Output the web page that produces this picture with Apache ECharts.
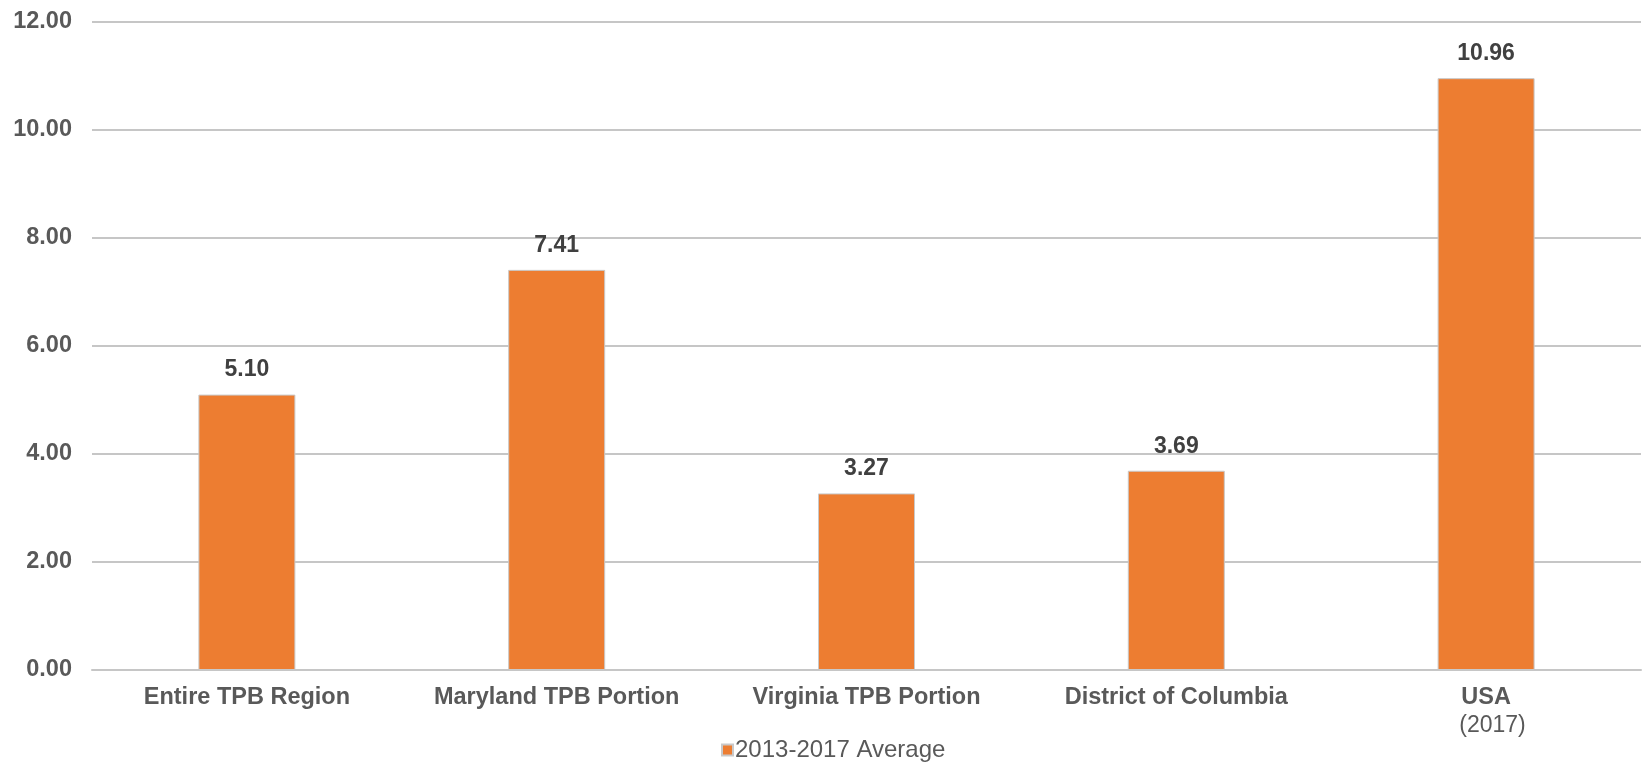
<!DOCTYPE html>
<html><head><meta charset="utf-8">
<script src="https://cdn.jsdelivr.net/npm/echarts@6/dist/echarts.min.js"></script>
<style>html,body{margin:0;padding:0;background:#fff}#c{width:1643px;height:764px}</style>
</head><body><div id="c"></div>
<script>
const categories = ['Entire TPB Region', 'Maryland TPB Portion', 'Virginia TPB Portion', 'District of Columbia', 'USA\n(2017)'];
const seriesName = '2013-2017 Average';
const values = [5.10, 7.41, 3.27, 3.69, 10.96];
const yTicks = [0, 2, 4, 6, 8, 10, 12];

const font = '"Liberation Sans", Arial, sans-serif';
const chart = echarts.init(document.getElementById('c'));
chart.setOption({
  animation: false,
  textStyle: { fontFamily: font },
  grid: { left: 92, right: 2, top: 22, bottom: 94, containLabel: false },
  legend: {
    data: [seriesName], left: 716, top: 733, icon: 'rect', itemWidth: 11, itemHeight: 11, itemGap: 6,
    textStyle: { fontFamily: font, fontSize: 24, color: '#595959', padding: [0, 0, 0, -3] }
  },
  xAxis: {
    type: 'category', data: categories,
    axisLine: { show: true, lineStyle: { color: '#c6c6c6', width: 2 } },
    axisTick: { show: false },
    axisLabel: {
      interval: 0, margin: 14, color: '#595959', fontFamily: font, fontSize: 23.5, fontWeight: 'bold', lineHeight: 28,
      formatter: function (v) {
        const parts = v.split('\n');
        if (parts.length > 1) return parts[0] + '\n{r|  ' + parts[1] + '}';
        return v;
      },
      rich: { r: { fontSize: 23, fontWeight: 'normal', color: '#595959', fontFamily: font, lineHeight: 28 } }
    }
  },
  yAxis: {
    type: 'value', min: yTicks[0], max: yTicks[yTicks.length - 1], interval: 2,
    axisLine: { show: false }, axisTick: { show: false },
    splitLine: { lineStyle: { color: '#c6c6c6', width: 2 } },
    axisLabel: { margin: 20, color: '#595959', fontFamily: font, fontSize: 23.5, fontWeight: 'bold',
      formatter: v => v.toFixed(2) }
  },
  series: [{
    name: seriesName, type: 'bar', data: values, barWidth: 97,
    itemStyle: { color: '#ED7D31', borderColor: '#c9c9c9', borderWidth: 1 },
    label: { show: true, position: 'top', distance: 13, color: '#404040', fontFamily: font, fontSize: 23, fontWeight: 'bold',
      formatter: p => p.value.toFixed(2) }
  }]
});
</script></body></html>
